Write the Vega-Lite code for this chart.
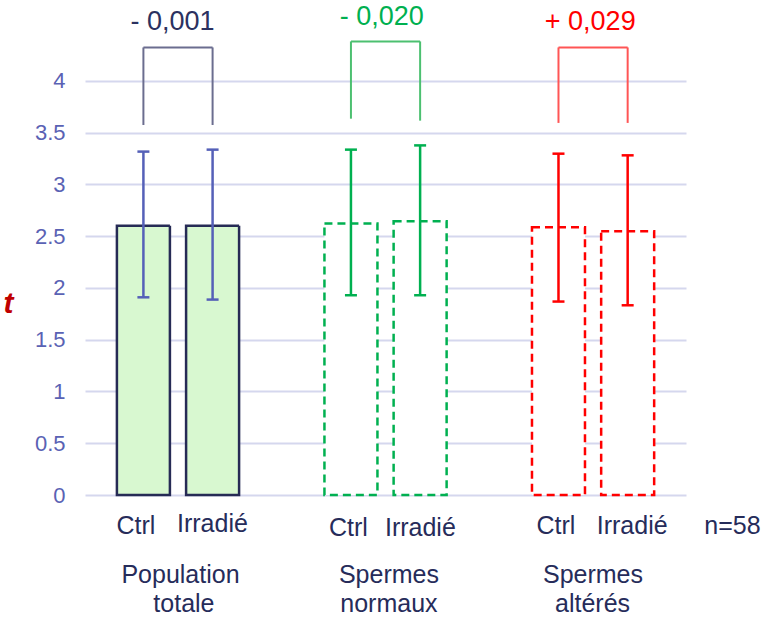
{
  "$schema": "https://vega.github.io/schema/vega-lite/v6.json",
  "width": 601,
  "height": 495,
  "autosize": {"type": "none"},
  "padding": {"left": 85, "top": 0, "right": 93, "bottom": 126},
  "config": {"view": {"stroke": null}, "font": "Liberation Sans"},
  "datasets": {
    "bars": [
      {"group": "Population totale", "cond": "Ctrl", "pos": 0, "mean": 2.6, "lo": 1.909, "hi": 3.316},
      {"group": "Population totale", "cond": "Irradié", "pos": 1, "mean": 2.6, "lo": 1.887, "hi": 3.335},
      {"group": "Spermes normaux", "cond": "Ctrl", "pos": 3, "mean": 2.621, "lo": 1.929, "hi": 3.335},
      {"group": "Spermes normaux", "cond": "Irradié", "pos": 4, "mean": 2.643, "lo": 1.929, "hi": 3.376},
      {"group": "Spermes altérés", "cond": "Ctrl", "pos": 6, "mean": 2.585, "lo": 1.868, "hi": 3.296},
      {"group": "Spermes altérés", "cond": "Irradié", "pos": 7, "mean": 2.546, "lo": 1.832, "hi": 3.28}
    ],
    "brackets": [
      {"group": "Population totale", "x1": 0, "x2": 1, "top": 4.322, "botL": 3.573, "botR": 3.573, "txt": "- 0,001", "tx": 0.422, "ty": 4.493},
      {"group": "Spermes normaux", "x1": 3, "x2": 4, "top": 4.38, "botL": 3.634, "botR": 3.615, "txt": "- 0,020", "tx": 3.446, "ty": 4.542},
      {"group": "Spermes altérés", "x1": 6, "x2": 7, "top": 4.322, "botL": 3.593, "botR": 3.593, "txt": "+ 0,029", "tx": 6.459, "ty": 4.493}
    ],
    "labels": [
      {"lab": "Ctrl", "lx": -0.108, "ly": -0.372},
      {"lab": "Irradié", "lx": 0.998, "ly": -0.359},
      {"lab": "Ctrl", "lx": 2.962, "ly": -0.4},
      {"lab": "Irradié", "lx": 4.004, "ly": -0.4},
      {"lab": "Ctrl", "lx": 5.963, "ly": -0.381},
      {"lab": "Irradié", "lx": 7.065, "ly": -0.381},
      {"lab": "n=58", "lx": 8.515, "ly": -0.381},
      {"lab": "Population", "lx": 0.536, "ly": -0.847},
      {"lab": "totale", "lx": 0.586, "ly": -1.131},
      {"lab": "Spermes", "lx": 3.549, "ly": -0.85},
      {"lab": "normaux", "lx": 3.549, "ly": -1.131},
      {"lab": "Spermes", "lx": 6.499, "ly": -0.85},
      {"lab": "altérés", "lx": 6.492, "ly": -1.131}
    ]
  },
  "resolve": {"scale": {"color": "independent"}},
  "layer": [
    {
      "data": {"name": "bars"},
      "mark": {"type": "bar", "width": 53, "strokeWidth": 2.5},
      "encoding": {
        "x": {"field": "pos", "type": "quantitative", "scale": {"domain": [-0.772, 7.771], "nice": false, "zero": false}, "axis": null},
        "y": {
          "field": "mean", "type": "quantitative",
          "scale": {"domain": [0, 4.78], "nice": false},
          "axis": {
            "values": [0, 0.5, 1, 1.5, 2, 2.5, 3, 3.5, 4],
            "format": "~g",
            "title": "t",
            "titleAngle": 0,
            "titleColor": "#C00000",
            "titleFont": "Liberation Sans",
            "titleFontStyle": "italic",
            "titleFontWeight": "bold",
            "titleFontSize": 30,
            "titleX": -77,
            "titleY": 312,
            "titleAlign": "center",
            "titleBaseline": "alphabetic",
            "labelColor": "#5A62B4",
            "labelFontSize": 22,
            "labelFont": "Liberation Sans",
            "ticks": false,
            "tickSize": 0,
            "labelPadding": 20,
            "domain": false,
            "grid": true,
            "gridColor": "#D5D7EE",
            "gridWidth": 2
          }
        },
        "fill": {"field": "group", "type": "nominal", "scale": {"domain": ["Population totale", "Spermes normaux", "Spermes altérés"], "range": ["#D8F8D0", "#FFFFFF", "#FFFFFF"]}, "legend": null},
        "stroke": {"field": "group", "type": "nominal", "scale": {"domain": ["Population totale", "Spermes normaux", "Spermes altérés"], "range": ["#262B55", "#00B050", "#FF0000"]}, "legend": null},
        "strokeDash": {"field": "group", "type": "nominal", "scale": {"domain": ["Population totale", "Spermes normaux", "Spermes altérés"], "range": [[1, 0], [8, 5], [8, 5]]}, "legend": null}
      }
    },
    {
      "data": {"name": "bars"},
      "mark": {"type": "rule", "strokeWidth": 2.5},
      "encoding": {
        "x": {"field": "pos", "type": "quantitative"},
        "y": {"field": "lo", "type": "quantitative"},
        "y2": {"field": "hi"},
        "color": {"field": "group", "type": "nominal", "scale": {"domain": ["Population totale", "Spermes normaux", "Spermes altérés"], "range": ["#5560B8", "#00B050", "#FF0000"]}, "legend": null}
      }
    },
    {
      "data": {"name": "bars"},
      "mark": {"type": "rule", "strokeWidth": 2.5, "xOffset": -6, "x2Offset": 6},
      "encoding": {
        "x": {"field": "pos", "type": "quantitative"},
        "x2": {"field": "pos"},
        "y": {"field": "hi", "type": "quantitative"},
        "color": {"field": "group", "type": "nominal", "scale": {"domain": ["Population totale", "Spermes normaux", "Spermes altérés"], "range": ["#5560B8", "#00B050", "#FF0000"]}, "legend": null}
      }
    },
    {
      "data": {"name": "bars"},
      "mark": {"type": "rule", "strokeWidth": 2.5, "xOffset": -6, "x2Offset": 6},
      "encoding": {
        "x": {"field": "pos", "type": "quantitative"},
        "x2": {"field": "pos"},
        "y": {"field": "lo", "type": "quantitative"},
        "color": {"field": "group", "type": "nominal", "scale": {"domain": ["Population totale", "Spermes normaux", "Spermes altérés"], "range": ["#5560B8", "#00B050", "#FF0000"]}, "legend": null}
      }
    },
    {
      "data": {"name": "brackets"},
      "mark": {"type": "rule", "strokeWidth": 2},
      "encoding": {
        "x": {"field": "x1", "type": "quantitative"},
        "x2": {"field": "x2"},
        "y": {"field": "top", "type": "quantitative"},
        "color": {"field": "group", "type": "nominal", "scale": {"domain": ["Population totale", "Spermes normaux", "Spermes altérés"], "range": ["#6B6D8F", "#4CC070", "#FF5555"]}, "legend": null}
      }
    },
    {
      "data": {"name": "brackets"},
      "mark": {"type": "rule", "strokeWidth": 2},
      "encoding": {
        "x": {"field": "x1", "type": "quantitative"},
        "y": {"field": "top", "type": "quantitative"},
        "y2": {"field": "botL"},
        "color": {"field": "group", "type": "nominal", "scale": {"domain": ["Population totale", "Spermes normaux", "Spermes altérés"], "range": ["#6B6D8F", "#4CC070", "#FF5555"]}, "legend": null}
      }
    },
    {
      "data": {"name": "brackets"},
      "mark": {"type": "rule", "strokeWidth": 2},
      "encoding": {
        "x": {"field": "x2", "type": "quantitative"},
        "y": {"field": "top", "type": "quantitative"},
        "y2": {"field": "botR"},
        "color": {"field": "group", "type": "nominal", "scale": {"domain": ["Population totale", "Spermes normaux", "Spermes altérés"], "range": ["#6B6D8F", "#4CC070", "#FF5555"]}, "legend": null}
      }
    },
    {
      "data": {"name": "brackets"},
      "mark": {"type": "text", "fontSize": 27, "font": "Liberation Sans", "align": "center", "baseline": "alphabetic"},
      "encoding": {
        "x": {"field": "tx", "type": "quantitative"},
        "y": {"field": "ty", "type": "quantitative"},
        "text": {"field": "txt"},
        "color": {"field": "group", "type": "nominal", "scale": {"domain": ["Population totale", "Spermes normaux", "Spermes altérés"], "range": ["#2B3160", "#00B050", "#FF0000"]}, "legend": null}
      }
    },
    {
      "data": {"name": "labels"},
      "mark": {"type": "text", "fontSize": 25, "font": "Liberation Sans", "align": "center", "baseline": "alphabetic", "color": "#262C5A"},
      "encoding": {
        "x": {"field": "lx", "type": "quantitative"},
        "y": {"field": "ly", "type": "quantitative"},
        "text": {"field": "lab"}
      }
    }
  ]
}
